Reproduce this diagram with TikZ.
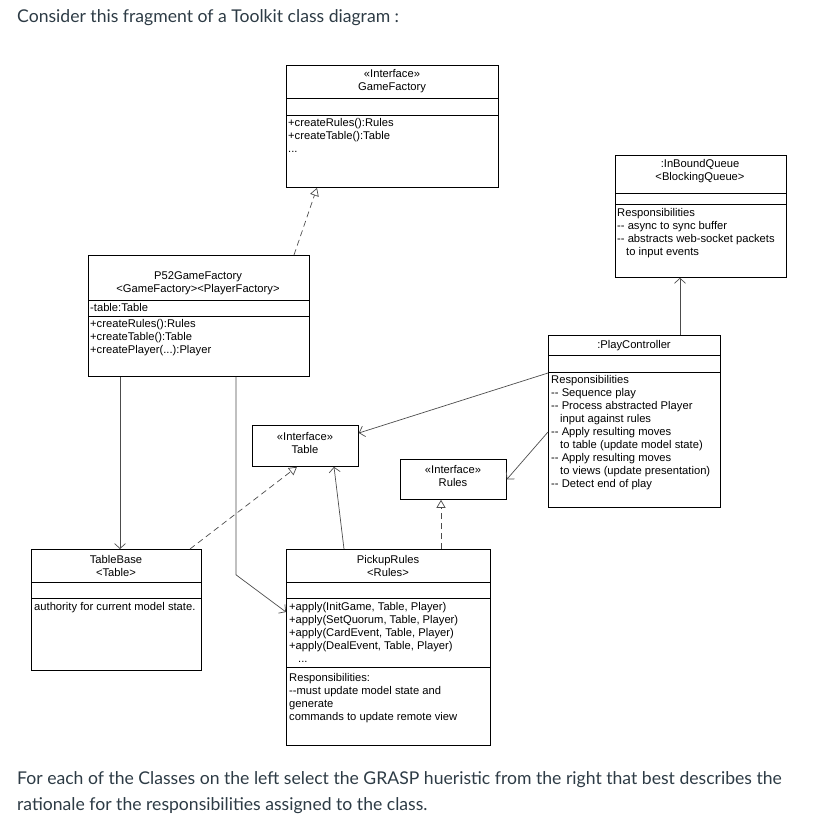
\documentclass[tikz,border=0pt]{standalone}
\usepackage{fontspec}
\setmainfont{Lato}
\newfontfamily\umlfamily{Liberation Sans}
\usetikzlibrary{arrows.meta}
\definecolor{canvastext}{HTML}{2D3B45}
\newcommand{\umlfont}{\umlfamily\fontsize{11.2}{13}\selectfont}
\newcommand{\dd}{-\kern0pt-}
\newcommand{\ind}{\hspace*{9pt}}

\begin{document}
\begin{tikzpicture}[x=1pt, y=-1pt,
  cls/.style={draw, line width=0.8pt, anchor=north west, inner sep=0pt},
  title/.style={font=\umlfont, align=center, inner sep=0pt},
  body/.style={font=\umlfont, align=left, anchor=north west, inner sep=0pt},
  sep/.style={line width=0.8pt},
  real/.style={draw=black!70, line width=0.7pt, dash pattern=on 6pt off 4pt, -{Triangle[open, length=8pt, width=9pt]}},
  assoc/.style={draw=black!70, line width=0.7pt, -{Straight Barb[length=5pt, width=11pt]}},
  prose/.style={font=\fontsize{17.6}{26}\selectfont, text=canvastext, inner sep=0pt}]
		%%%%% START %%%%%
		\useasboundingbox (0,0) rectangle (819,827);
		
		\node[prose, anchor=base west] (head) at (17,23) {Consider this fragment of a Toolkit class diagram :};
		
		% GameFactory
		\node[cls, minimum width=212pt, minimum height=122pt] (gf) at (286,65) {};
		\node[title] (gfname) at (392,81) {«Interface»\\GameFactory};
		\draw[sep] (gf.west |- 0,98) -- (gf.east |- 0,98);
		\draw[sep] (gf.west |- 0,115) -- (gf.east |- 0,115);
		\node[body] (gfops) at (288,118) {+createRules():Rules\\+createTable():Table\\...};
		
		% InBoundQueue
		\node[cls, minimum width=171pt, minimum height=122pt] (ibq) at (615,155) {};
		\node[title] (ibqname) at (700,171) {:InBoundQueue\\<BlockingQueue>};
		\draw[sep] (ibq.west |- 0,193) -- (ibq.east |- 0,193);
		\draw[sep] (ibq.west |- 0,204) -- (ibq.east |- 0,204);
		\node[body] (ibqresp) at (617,208) {Responsibilities\\\dd{} async to sync buffer\\\dd{} abstracts web-socket packets\\\ind to input events};
		
		% P52GameFactory
		\node[cls, minimum width=221pt, minimum height=121pt] (p52) at (88,255) {};
		\node[title] (p52name) at (198,283) {P52GameFactory\\<GameFactory><PlayerFactory>};
		\draw[sep] (p52.west |- 0,300) -- (p52.east |- 0,300);
		\draw[sep] (p52.west |- 0,316) -- (p52.east |- 0,316);
		\node[body] (p52attr) at (90,303) {-table:Table};
		\node[body] (p52ops) at (90,319) {+createRules():Rules\\+createTable():Table\\+createPlayer(...):Player};
		
		% PlayController
		\node[cls, minimum width=172pt, minimum height=172pt] (pc) at (548,335) {};
		\node[title] (pcname) at (634,346) {:PlayController};
		\draw[sep] (pc.west |- 0,355) -- (pc.east |- 0,355);
		\draw[sep] (pc.west |- 0,372) -- (pc.east |- 0,372);
		\node[body] (pcresp) at (551,375) {Responsibilities\\\dd{} Sequence play\\\dd{} Process abstracted Player\\\ind input against rules\\\dd{} Apply resulting moves\\\ind to table (update model state)\\\dd{} Apply resulting moves\\\ind to views (update presentation)\\\dd{} Detect end of play};
		
		% Table, Rules
		\node[cls, minimum width=106pt, minimum height=41pt] (tbl) at (252,425) {};
		\node[title] (tblname) at (305,443) {«Interface»\\Table};
		\node[cls, minimum width=106pt, minimum height=40pt] (rul) at (400,459) {};
		\node[title] (rulname) at (453,476) {«Interface»\\Rules};
		
		% TableBase
		\node[cls, minimum width=170pt, minimum height=121pt] (tb) at (31,549) {};
		\node[title] (tbname) at (116,566) {TableBase\\<Table>};
		\draw[sep] (tb.west |- 0,582) -- (tb.east |- 0,582);
		\draw[sep] (tb.west |- 0,598) -- (tb.east |- 0,598);
		\node[body] (tbbody) at (34,602) {authority for current model state.};
		
		% PickupRules
		\node[cls, minimum width=204pt, minimum height=196pt] (pr) at (286,549) {};
		\node[title] (prname) at (388,566) {PickupRules\\<Rules>};
		\draw[sep] (pr.west |- 0,582) -- (pr.east |- 0,582);
		\draw[sep] (pr.west |- 0,598) -- (pr.east |- 0,598);
		\draw[sep] (pr.west |- 0,667) -- (pr.east |- 0,667);
		\node[body] (props) at (289,602) {+apply(InitGame, Table, Player)\\+apply(SetQuorum, Table, Player)\\+apply(CardEvent, Table, Player)\\+apply(DealEvent, Table, Player)\\\ind ...};
		\node[body] (prresp) at (289,673) {Responsibilities:\\\dd must update model state and\\generate\\commands to update remote view};
		
		% connectors
		\draw[real] ([xshift=206pt]p52.north west) -- ([xshift=31pt]gf.south west);
		\draw[assoc] ([xshift=132pt]pc.north west) -- ([xshift=65pt]ibq.south west);
		\draw[assoc] ([yshift=-38pt]pc.north west) -- ([yshift=-8pt]tbl.north east);
		\draw[assoc] ([yshift=-97pt]pc.north west) -- (rul.east);
		\draw[assoc] ([xshift=32pt]p52.south west) -- ([xshift=89pt]tb.north west);
		\draw[assoc] ([xshift=148pt]p52.south west) -- ++(0,198) -- ([yshift=-63pt]pr.north west);
		\draw[real] ([xshift=159pt]tb.north west) -- ([xshift=45pt]tbl.south west);
		\draw[assoc] ([xshift=58pt]pr.north west) -- ([xshift=82pt]tbl.south west);
		\draw[real] ([xshift=155pt]pr.north west) -- ([xshift=41pt]rul.south west);
		
		\node[prose, anchor=north west, align=left] (question) at (17,771) {For each of the Classes on the left select the GRASP hueristic from the right that best describes the\\rationale for the responsibilities assigned to the class.};
		%%%%% END %%%%%
\end{tikzpicture}
\end{document}
